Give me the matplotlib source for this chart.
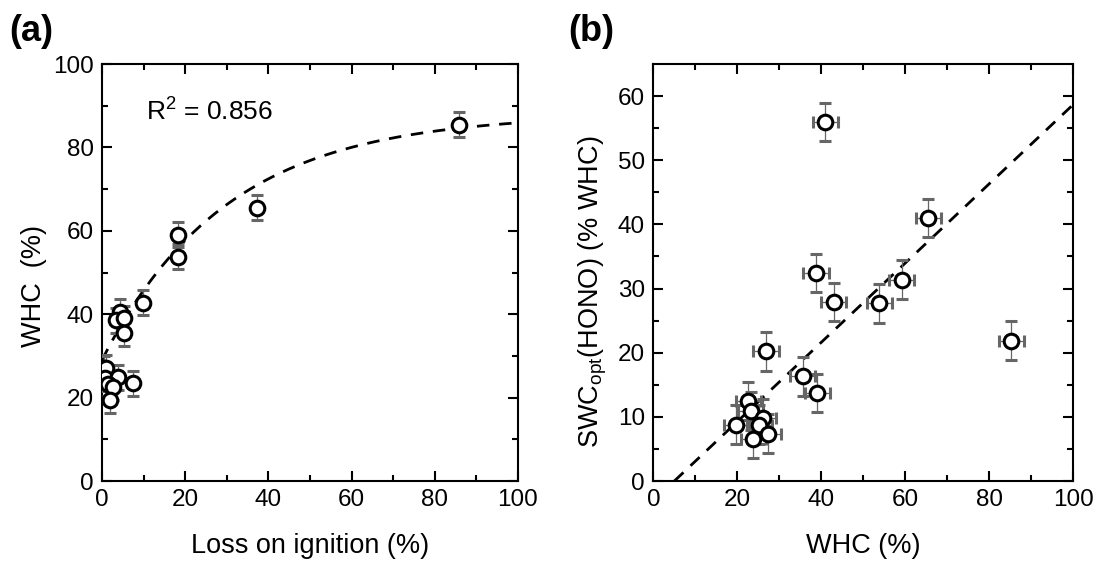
import matplotlib
matplotlib.use("Agg")
import matplotlib.pyplot as plt
import numpy as np

plt.rcParams['font.family'] = ['Liberation Sans', 'DejaVu Sans']
plt.rcParams['mathtext.fontset'] = 'custom'
plt.rcParams['mathtext.rm'] = 'Liberation Sans'
plt.rcParams['mathtext.it'] = 'Liberation Sans:italic'

# panel (a): loss on ignition vs WHC
loi = [85.9, 37.3, 18.2, 18.3, 9.9, 4.3, 3.3, 5.4, 5.3, 0.5, 1.0, 0.8, 3.9, 7.4, 1.5, 2.7, 1.9]
whc_a = [85.4, 65.5, 59.0, 53.8, 42.8, 40.6, 38.6, 39.0, 35.4, 27.0, 27.2, 24.7, 24.9, 23.4, 23.3, 22.5, 19.4]
whc_a_err = [3.0] * len(loi)

# exponential fit  y = A - B*exp(-x/C)
FIT_A, FIT_B, FIT_C = 88.0, 59.0, 30.0
r2_text = r'R$^2$ = 0.856'

# panel (b): WHC vs SWC_opt(HONO)
whc_b = [40.9, 65.5, 38.7, 59.1, 42.9, 53.8, 85.2, 26.8, 35.6, 39.0, 22.6, 23.2, 26.2, 19.7, 25.2, 27.4, 23.8]
swc = [56.0, 41.0, 32.4, 31.4, 27.9, 27.7, 21.9, 20.2, 16.3, 13.7, 12.5, 10.9, 9.8, 8.8, 8.8, 7.4, 6.6]
whc_b_err = [3.0] * len(whc_b)
swc_err = [3.0] * len(swc)

# linear fit
LIN_SLOPE, LIN_X0 = 0.618, 5.0

fig = plt.figure(figsize=(10.99, 5.61), dpi=100)
ax1 = fig.add_axes([0.0928, 0.1426, 0.3785, 0.7433])
ax2 = fig.add_axes([0.5945, 0.1426, 0.3822, 0.7433])

marker_kw = dict(fmt='o', ms=10.5, mfc='white', mec='black', mew=2.2,
                 ecolor='#666666', elinewidth=0.9, capsize=4, capthick=0.9, zorder=3)

# (a)
xf = np.linspace(0, 100, 300)
ax1.plot(xf, FIT_A - FIT_B * np.exp(-xf / FIT_C), ls=(0, (4.5, 3.5)), color='black', lw=2.0, zorder=2)
ax1.errorbar(loi, whc_a, yerr=whc_a_err, **marker_kw)
ax1.set_xlim(0, 100)
ax1.set_ylim(0, 100)
ax1.set_xticks(np.arange(0, 101, 20))
ax1.set_xticks(np.arange(10, 100, 20), minor=True)
ax1.set_yticks(np.arange(0, 101, 20))
ax1.set_yticks(np.arange(10, 100, 20), minor=True)
ax1.set_xlabel('Loss on ignition (%)', fontsize=19.5)
ax1.set_ylabel('WHC  (%)', fontsize=19.5)
ax1.xaxis.set_label_coords(0.5, -0.124)
ax1.yaxis.set_label_coords(-0.133, 0.468)
ax1.text(10.5, 88.5, r2_text, fontsize=19, va='center')

# (b)
xl = np.linspace(LIN_X0, 100, 100)
ax2.plot(xl, LIN_SLOPE * (xl - LIN_X0), ls=(0, (4.5, 3.5)), color='black', lw=2.0, zorder=2)
ax2.errorbar(whc_b, swc, xerr=whc_b_err, yerr=swc_err, **marker_kw)
ax2.set_xlim(0, 100)
ax2.set_ylim(0, 65)
ax2.set_xticks(np.arange(0, 101, 20))
ax2.set_xticks(np.arange(10, 100, 20), minor=True)
ax2.set_yticks(np.arange(0, 61, 10))
ax2.set_yticks(np.arange(5, 65, 10), minor=True)
ax2.set_xlabel('WHC (%)', fontsize=19.5)
ax2.set_ylabel(r'SWC$_{\mathrm{opt}}$(HONO) (% WHC)', fontsize=19.5)
ax2.xaxis.set_label_coords(0.5, -0.124)
ax2.yaxis.set_label_coords(-0.105, 0.453)

for ax in (ax1, ax2):
    for sp in ax.spines.values():
        sp.set_linewidth(1.5)
    ax.tick_params(which='both', direction='in', top=True, right=True, width=1.5)
    ax.tick_params(which='major', length=7, labelsize=17.5, pad=6)
    ax.tick_params(which='minor', length=4)

fig.text(0.028, 0.943, '(a)', fontsize=26, fontweight='bold', ha='center', va='center')
fig.text(0.538, 0.943, '(b)', fontsize=26, fontweight='bold', ha='center', va='center')

fig.savefig('out.png', dpi=100)
